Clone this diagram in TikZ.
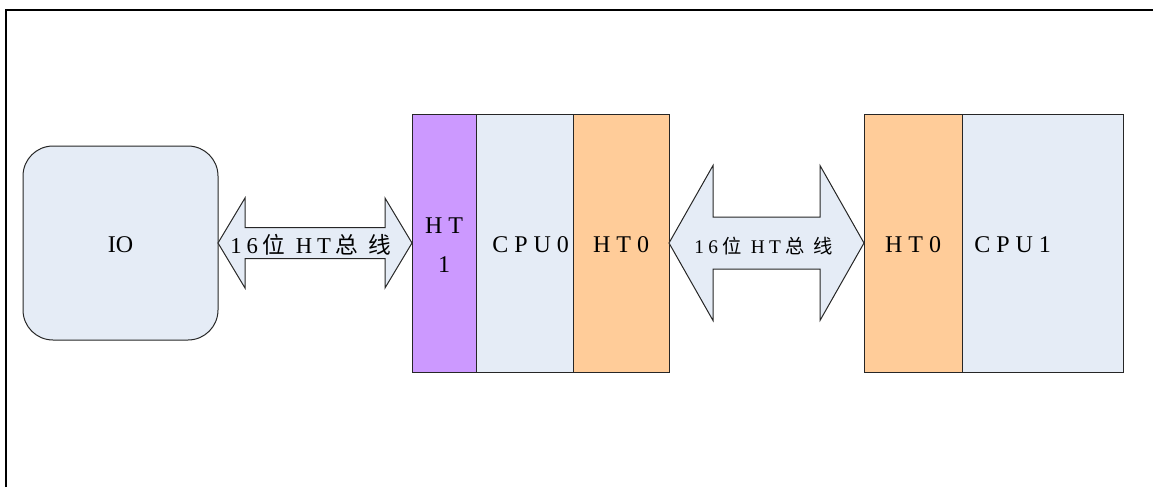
\documentclass[tikz,border=0pt]{standalone}
\usepackage{fontspec}
\setmainfont{Liberation Serif}
\newfontfamily\cjk{Noto Sans CJK SC}
\usetikzlibrary{positioning,calc}

\definecolor{cpublue}{HTML}{E5ECF6}
\definecolor{htpurple}{HTML}{CC99FF}
\definecolor{htorange}{HTML}{FFCC99}

% double block arrow: from, to, shaft half, head half, head length
\newcommand{\busarrow}[5]{%
	\draw[busline] (#1) -- ($(#1)+(#5,#4)$) -- ($(#1)+(#5,#3)$) -- ($(#2)+(-#5,#3)$)
		-- ($(#2)+(-#5,#4)$) -- (#2) -- ($(#2)+(-#5,-#4)$) -- ($(#2)+(-#5,-#3)$)
		-- ($(#1)+(#5,-#3)$) -- ($(#1)+(#5,-#4)$) -- cycle;}
% bus label with spread letters
\newcommand{\bustext}[1]{1\kern#1 6\kern#1{\cjk 位}\hspace{2.2\dimexpr#1\relax}H\kern#1 T\kern#1{\cjk 总}\hspace{2.2\dimexpr#1\relax}{\cjk 线}}

\begin{document}
\begin{tikzpicture}[x=0.75pt,y=-0.75pt,node distance=0pt,
	block/.style={draw=black!85, line width=0.75pt, inner sep=0pt, outer sep=0pt,
		minimum height=193.5pt, font=\fontsize{18}{22}\selectfont},
	blocktext/.style={text height=14pt, text depth=0pt},
	busline/.style={draw=black!85, line width=0.75pt, fill=cpublue},
	lab/.style={inner sep=0pt, yshift=-1.5pt, font=\fontsize{18}{22}\selectfont}]
	\useasboundingbox (0,0) rectangle (1153,487);
	
	% frame
	\draw[line width=1.5pt] (6,487) -- (6,10) -- (1153,10);
	
	% io
	\node[block, blocktext, fill=cpublue, rounded corners=22.5pt, minimum width=146.25pt,
		minimum height=145.5pt, anchor=north west] (io) at (23,146) {IO};
	
	% cpu0 side
	\node[block, fill=htpurple, minimum width=48pt, anchor=north west] (ht1) at (412,114) {};
	\node[lab, align=center, font=\fontsize{18}{29}\selectfont] (htonelab) at (ht1) {H T\\1};
	\node[block, fill=cpublue, minimum width=72.75pt, right=of ht1] (cpu0) {};
	\node[block, blocktext, fill=htorange, minimum width=72pt, right=of cpu0] (htz) {H T 0};
	\node[lab, right=12pt of cpu0.west] (cpuzlab) {C P U 0};
	
	% cpu1 side
	\node[block, blocktext, fill=htorange, minimum width=73.5pt, anchor=north west] (htw) at (864,114) {H T 0};
	\node[block, fill=cpublue, minimum width=120.75pt, right=of htw] (cpu1) {};
	\node[lab, right=9pt of cpu1.west] (cpuwlab) {C P U 1};
	
	% buses
	\busarrow{io.east}{ht1.west}{15.5}{45}{27}
	\busarrow{htz.east}{htw.west}{26}{77.5}{44}
	\node[lab, font=\fontsize{17}{20}\selectfont, xshift=-3pt] (busa)
		at ($(io.east)!0.5!(ht1.west)$) {\bustext{3.6pt}};
	\node[lab, font=\fontsize{14.5}{18}\selectfont, xshift=-2pt, yshift=-1pt] (busb)
		at ($(htz.east)!0.5!(htw.west)$) {\bustext{3.2pt}};
\end{tikzpicture}
\end{document}
